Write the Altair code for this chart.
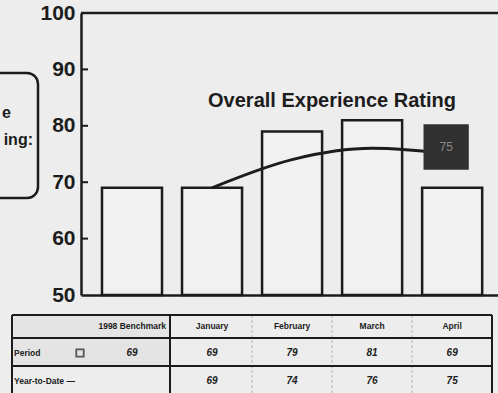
import altair as alt
import pandas as pd

# ---- data ----
categories = ["1998 Benchmark", "January", "February", "March", "April"]
period_values = [69, 69, 79, 81, 69]
ytd_months = ["January", "February", "March", "April"]
ytd_values = [69, 74, 76, 75]
y_ticks = [50, 60, 70, 80, 90, 100]
inner_ticks = [60, 70, 80, 90]
title_text = "Overall Experience Rating"
side_lines = ["e", "ing:"]          # only the visible ends of the cropped callout
row_labels = ["Period", "Year-to-Date —"]
last_label = "75"

W, H = 417, 282
BG = "#ededed"
INK = "#1c1c1c"
FONT = "Liberation Sans"

bars_df = pd.DataFrame({"cat": categories, "value": period_values})
ytd_df = pd.DataFrame({"cat": ytd_months, "value": ytd_values})
ticks_df = pd.DataFrame({"t": inner_ticks})
last_df = pd.DataFrame({"cat": [ytd_months[-1]], "value": [ytd_values[-1]], "label": [last_label]})
head_df = pd.DataFrame({"cat": categories})
row1_df = pd.DataFrame({"cat": categories, "txt": [str(v) for v in period_values]})
row2_df = pd.DataFrame({"cat": ytd_months, "txt": [str(v) for v in ytd_values]})

xscale = alt.Scale(domain=categories, paddingInner=0.25, paddingOuter=0.23, align=0.57)
yscale = alt.Scale(domain=[50, 100], nice=False, zero=False)

X = alt.X("cat:N", scale=xscale, sort=categories,
          axis=alt.Axis(labels=False, ticks=False, title=None, domainColor=INK, domainWidth=2.5))
Y = alt.Y("value:Q", scale=yscale,
          axis=alt.Axis(values=y_ticks, ticks=False, grid=False, title=None, labelFont=FONT,
                        labelFontSize=21, labelFontWeight="bold", labelColor=INK, labelPadding=6,
                        domainColor=INK, domainWidth=2.5))

bars = alt.Chart(bars_df).mark_bar(fill="#f1f1f1", stroke=INK, strokeWidth=2.5).encode(
    x=X, y=Y, y2=alt.datum(50)
)

tick_marks = alt.Chart(ticks_df).mark_rule(color=INK, strokeWidth=2).encode(
    y=alt.Y("t:Q", scale=yscale), x=alt.value(0), x2=alt.value(7)
)

top_line = alt.Chart(ticks_df.head(1)).mark_rule(color=INK, strokeWidth=2.5).encode(
    x=alt.value(0), x2=alt.value(W), y=alt.value(0)
)

line = alt.Chart(ytd_df).mark_line(color=INK, strokeWidth=3, interpolate="monotone").encode(
    x=alt.X("cat:N", scale=xscale, sort=categories), y=alt.Y("value:Q", scale=yscale)
)

box = alt.Chart(last_df).mark_square(size=2050, color="#303030", opacity=1, xOffset=-6, yOffset=-7).encode(
    x=alt.X("cat:N", scale=xscale, sort=categories), y=alt.Y("value:Q", scale=yscale)
)
box_txt = alt.Chart(last_df).mark_text(font=FONT, fontSize=12, color="#8a8a8a", dx=-6, dy=-7,
                                       baseline="middle").encode(
    x=alt.X("cat:N", scale=xscale, sort=categories), y=alt.Y("value:Q", scale=yscale), text="label:N"
)

title = alt.Chart(ticks_df.head(1)).mark_text(font=FONT, fontSize=20, fontWeight="bold", color=INK,
                                               align="center", baseline="middle").encode(
    x=alt.value(251), y=alt.value(88), text=alt.datum(title_text)
)

# side callout box (partly cut by the left edge)
side_box = alt.Chart(ticks_df.head(1)).mark_rect(fill=BG, stroke=INK, strokeWidth=2.5, cornerRadius=11).encode(
    x=alt.value(-130), x2=alt.value(-43), y=alt.value(60), y2=alt.value(185)
)
side_txt = alt.Chart(pd.DataFrame({"line": side_lines, "xx": [-70, -48], "yy": [100, 127]})).mark_text(
    font=FONT, fontSize=16, fontWeight="bold", color=INK, align="right", baseline="middle").encode(
    x=alt.X("xx:Q", scale=None), y=alt.Y("yy:Q", scale=None), text="line:N"
)

# ---- table ----
TL, TR, TC = -69, 411, 89
ty = {"top": 302, "h": 325, "r1": 353, "bot": 400}
tab_bg = alt.Chart(ticks_df.head(1)).mark_rect(fill="#e4e4e4").encode(
    x=alt.value(TL), x2=alt.value(TC), y=alt.value(ty["top"]), y2=alt.value(ty["r1"])
)
hlines = alt.Chart(pd.DataFrame({"yy": [ty["top"], ty["h"], ty["r1"]]})).mark_rule(
    color=INK, strokeWidth=2).encode(x=alt.value(TL), x2=alt.value(TR), y=alt.Y("yy:Q", scale=None))
vlines = alt.Chart(pd.DataFrame({"xx": [TL, TC, TR]})).mark_rule(color=INK, strokeWidth=2).encode(
    x=alt.X("xx:Q", scale=None), y=alt.value(ty["top"]), y2=alt.value(ty["bot"]))
faint = alt.Chart(pd.DataFrame({"xx": [171, 251, 331]})).mark_rule(
    color="#b5b5b5", strokeWidth=1, strokeDash=[3, 2]).encode(
    x=alt.X("xx:Q", scale=None), y=alt.value(ty["top"]), y2=alt.value(ty["bot"]))

XT = alt.X("cat:N", scale=xscale, sort=categories)
head_main = alt.Chart(head_df.iloc[1:]).mark_text(font=FONT, fontSize=8.5, fontWeight="bold", color=INK,
                                                   baseline="middle").encode(
    x=XT, y=alt.value(313), text="cat:N")
head_bench = alt.Chart(head_df.iloc[:1]).mark_text(font=FONT, fontSize=8.5, fontWeight="bold", color=INK,
                                                    baseline="middle", align="right").encode(
    x=alt.value(85), y=alt.value(313), text="cat:N")
r1 = alt.Chart(row1_df).mark_text(font=FONT, fontSize=10, fontWeight="bold", fontStyle="italic",
                                  color=INK, baseline="middle").encode(x=XT, y=alt.value(340), text="txt:N")
r2 = alt.Chart(row2_df).mark_text(font=FONT, fontSize=10, fontWeight="bold", fontStyle="italic",
                                  color=INK, baseline="middle").encode(x=XT, y=alt.value(368), text="txt:N")
rlabels = alt.Chart(pd.DataFrame({"t": row_labels, "yy": [340, 368]})).mark_text(
    font=FONT, fontSize=8.5, fontWeight="bold", color=INK, align="left", baseline="middle").encode(
    x=alt.value(TL + 2), y=alt.Y("yy:Q", scale=None), text="t:N")
legend_sq = alt.Chart(ticks_df.head(1)).mark_square(size=55, filled=False, stroke=INK, strokeWidth=1.8).encode(
    x=alt.value(-1), y=alt.value(340))

chart = alt.layer(
    side_box, side_txt, bars, tick_marks, top_line, line, box, box_txt, title,
    tab_bg, faint, hlines, vlines, head_main, head_bench, r1, r2, rlabels, legend_sq
).properties(
    width=W, height=H, background=BG,
    autosize=alt.AutoSizeParams(type="none"),
    padding={"left": 81, "top": 13, "right": 0, "bottom": 98},
).configure_view(stroke=None)

chart.save("out.html", embed_options={"renderer": "svg", "actions": False})
